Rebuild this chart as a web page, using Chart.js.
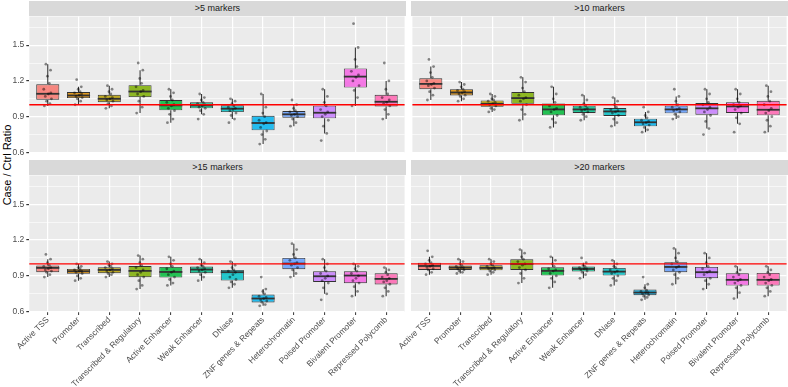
<!DOCTYPE html>
<html lang="en">
<head>
    <meta charset="UTF-8">
    <title>Case / Ctrl Ratio by chromatin state</title>
    <style>
        body {
            margin: 0;
            background: #ffffff;
            font-family: 'Liberation Sans', Arial, sans-serif;
        }
        #wrap {
            position: relative;
            width: 788px;
            height: 387px;
            overflow: hidden;
        }
        canvas {
            position: absolute;
        }
        .strip {
            position: absolute;
            height: 15px;
            line-height: 15px;
            background: #d9d9d9;
            color: #1a1a1a;
            font-size: 9px;
            text-align: center;
            z-index: 2;
        }
        #ytitle {
            position: absolute;
            left: -53px;
            top: 158px;
            width: 120px;
            height: 14px;
            line-height: 14px;
            font-size: 11px;
            color: #000;
            text-align: center;
            transform: rotate(-90deg);
        }
    </style>
    <script src="https://cdn.jsdelivr.net/npm/chart.js"></script>
</head>
<body>
<div id="wrap">
    <div id="ytitle">Case / Ctrl Ratio</div>
    <div class="strip" id="s1" style="left:29px;top:1px;width:377px;"></div>
    <div class="strip" id="s2" style="left:411px;top:1px;width:377px;"></div>
    <div class="strip" id="s3" style="left:29px;top:160px;width:377px;"></div>
    <div class="strip" id="s4" style="left:411px;top:160px;width:377px;"></div>
    <canvas id="c1" width="397" height="162" style="left:9px;top:0px;"></canvas>
    <canvas id="c2" width="377" height="162" style="left:411px;top:0px;"></canvas>
    <canvas id="c3" width="397" height="228" style="left:9px;top:159px;"></canvas>
    <canvas id="c4" width="400" height="228" style="left:388px;top:159px;"></canvas>
</div>

<script>
    // chromatin states (x axis) and facet titles
    const categories = ['Active TSS', 'Promoter', 'Transcribed', 'Transcribed & Regulatory', 'Active Enhancer',
        'Weak Enhancer', 'DNase', 'ZNF genes & Repeats', 'Heterochromatin', 'Poised Promoter',
        'Bivalent Promoter', 'Repressed Polycomb'];
    const panelTitles = ['>5 markers', '>10 markers', '>15 markers', '>20 markers'];
    const yTickValues = [0.6, 0.9, 1.2, 1.5];
    const yTickLabels = ['0.6', '0.9', '1.2', '1.5'];
    const yMinorValues = [0.75, 1.05, 1.35, 1.65];
    const refRatio = 1.0;

    // >5 markers
    const q1Gt5  = [1.042, 1.056, 1.022, 1.064, 0.953, 0.970, 0.939, 0.786, 0.892, 0.886, 1.144, 0.986];
    const medGt5 = [1.092, 1.078, 1.050, 1.111, 0.995, 0.995, 0.967, 0.847, 0.920, 0.933, 1.236, 1.025];
    const q3Gt5  = [1.172, 1.106, 1.083, 1.164, 1.039, 1.020, 0.995, 0.908, 0.947, 0.992, 1.305, 1.083];
    const ptsGt5 = [
        [0.99, 1.01, 1.03, 1.05, 1.07, 1.09, 1.10, 1.13, 1.18, 1.24, 1.29, 1.34],
        [1.00, 1.03, 1.05, 1.06, 1.07, 1.08, 1.09, 1.10, 1.11, 1.13, 1.15, 1.21],
        [0.97, 0.99, 1.01, 1.03, 1.04, 1.05, 1.06, 1.07, 1.09, 1.11, 1.13, 1.16],
        [0.93, 0.98, 1.03, 1.07, 1.09, 1.11, 1.12, 1.15, 1.18, 1.22, 1.29, 1.35],
        [0.85, 0.88, 0.92, 0.95, 0.97, 0.99, 1.00, 1.02, 1.04, 1.07, 1.10, 1.13],
        [0.88, 0.92, 0.95, 0.97, 0.98, 0.99, 1.00, 1.01, 1.02, 1.04, 1.06, 1.09],
        [0.85, 0.88, 0.91, 0.93, 0.95, 0.96, 0.97, 0.98, 0.99, 1.01, 1.03, 1.05],
        [0.67, 0.71, 0.75, 0.78, 0.81, 0.84, 0.85, 0.87, 0.90, 0.93, 0.98, 1.09],
        [0.82, 0.85, 0.88, 0.90, 0.91, 0.92, 0.93, 0.94, 0.95, 0.97, 1.00, 1.04],
        [0.70, 0.76, 0.82, 0.87, 0.90, 0.92, 0.94, 0.96, 0.99, 1.02, 1.07, 1.13],
        [0.99, 1.06, 1.12, 1.16, 1.20, 1.23, 1.25, 1.28, 1.32, 1.38, 1.48, 1.68],
        [0.88, 0.92, 0.96, 0.99, 1.01, 1.02, 1.04, 1.06, 1.09, 1.13, 1.20, 1.35]
    ];

    // >10 markers
    const q1Gt10  = [1.131, 1.078, 0.983, 1.008, 0.911, 0.931, 0.906, 0.819, 0.928, 0.917, 0.931, 0.911];
    const medGt10 = [1.175, 1.103, 1.008, 1.056, 0.961, 0.961, 0.944, 0.853, 0.961, 0.970, 0.986, 0.958];
    const q3Gt10  = [1.222, 1.131, 1.036, 1.106, 1.011, 0.992, 0.972, 0.883, 0.992, 1.014, 1.022, 1.033];
    const ptsGt10 = [
        [1.04, 1.08, 1.11, 1.14, 1.16, 1.17, 1.18, 1.20, 1.23, 1.27, 1.32, 1.38],
        [1.03, 1.05, 1.07, 1.08, 1.09, 1.10, 1.11, 1.12, 1.13, 1.15, 1.17, 1.19],
        [0.94, 0.96, 0.97, 0.99, 1.00, 1.01, 1.02, 1.03, 1.04, 1.05, 1.07, 1.09],
        [0.87, 0.92, 0.96, 1.00, 1.03, 1.05, 1.06, 1.08, 1.11, 1.14, 1.19, 1.23],
        [0.81, 0.85, 0.88, 0.91, 0.94, 0.96, 0.97, 0.99, 1.02, 1.05, 1.09, 1.15],
        [0.87, 0.90, 0.92, 0.94, 0.95, 0.96, 0.97, 0.98, 0.99, 1.01, 1.04, 1.08],
        [0.82, 0.85, 0.88, 0.91, 0.93, 0.94, 0.95, 0.96, 0.98, 1.00, 1.03, 1.06],
        [0.77, 0.79, 0.81, 0.83, 0.84, 0.85, 0.86, 0.87, 0.89, 0.91, 0.94, 0.98],
        [0.88, 0.90, 0.92, 0.94, 0.95, 0.96, 0.97, 0.98, 1.00, 1.03, 1.07, 1.13],
        [0.75, 0.80, 0.86, 0.91, 0.94, 0.96, 0.98, 1.00, 1.02, 1.05, 1.09, 1.13],
        [0.77, 0.84, 0.89, 0.93, 0.96, 0.98, 0.99, 1.00, 1.02, 1.05, 1.09, 1.13],
        [0.77, 0.82, 0.87, 0.90, 0.93, 0.95, 0.97, 1.00, 1.03, 1.07, 1.11, 1.16]
    ];

    // >15 markers
    const q1Gt15  = [0.931, 0.917, 0.922, 0.889, 0.886, 0.922, 0.861, 0.678, 0.956, 0.850, 0.839, 0.828];
    const medGt15 = [0.967, 0.939, 0.950, 0.942, 0.933, 0.953, 0.931, 0.711, 1.003, 0.897, 0.903, 0.875];
    const q3Gt15  = [0.986, 0.958, 0.972, 0.983, 0.975, 0.978, 0.950, 0.744, 1.050, 0.939, 0.939, 0.922];
    const ptsGt15 = [
        [0.89, 0.91, 0.93, 0.94, 0.95, 0.96, 0.97, 0.98, 0.99, 1.01, 1.04, 1.08],
        [0.86, 0.88, 0.90, 0.92, 0.93, 0.94, 0.94, 0.95, 0.96, 0.97, 0.98, 1.00],
        [0.89, 0.91, 0.92, 0.93, 0.94, 0.95, 0.96, 0.97, 0.98, 0.99, 1.00, 1.02],
        [0.79, 0.82, 0.86, 0.89, 0.91, 0.93, 0.95, 0.97, 0.99, 1.01, 1.04, 1.07],
        [0.82, 0.84, 0.87, 0.89, 0.91, 0.93, 0.94, 0.96, 0.98, 1.00, 1.03, 1.06],
        [0.86, 0.89, 0.91, 0.93, 0.94, 0.95, 0.96, 0.97, 0.98, 0.99, 1.01, 1.04],
        [0.80, 0.83, 0.85, 0.87, 0.89, 0.91, 0.93, 0.94, 0.95, 0.97, 0.99, 1.02],
        [0.65, 0.66, 0.68, 0.69, 0.70, 0.71, 0.72, 0.73, 0.75, 0.77, 0.79, 0.89],
        [0.89, 0.92, 0.95, 0.97, 0.99, 1.00, 1.01, 1.03, 1.05, 1.08, 1.12, 1.17],
        [0.70, 0.75, 0.80, 0.84, 0.86, 0.88, 0.90, 0.92, 0.94, 0.97, 1.00, 1.04],
        [0.73, 0.77, 0.81, 0.84, 0.86, 0.88, 0.90, 0.92, 0.94, 0.96, 0.98, 1.00],
        [0.73, 0.77, 0.80, 0.83, 0.85, 0.86, 0.88, 0.89, 0.91, 0.93, 0.95, 0.97]
    ];

    // >20 markers
    const q1Gt20  = [0.950, 0.950, 0.947, 0.950, 0.903, 0.936, 0.903, 0.739, 0.931, 0.881, 0.819, 0.819];
    const medGt20 = [0.983, 0.969, 0.967, 1.000, 0.942, 0.958, 0.936, 0.761, 0.975, 0.931, 0.867, 0.867];
    const q3Gt20  = [1.011, 0.986, 0.989, 1.039, 0.972, 0.978, 0.967, 0.786, 1.014, 0.975, 0.922, 0.925];
    const ptsGt20 = [
        [0.91, 0.93, 0.95, 0.96, 0.97, 0.98, 0.99, 1.00, 1.01, 1.03, 1.06, 1.11],
        [0.92, 0.93, 0.94, 0.95, 0.96, 0.97, 0.97, 0.98, 0.99, 1.00, 1.02, 1.04],
        [0.91, 0.93, 0.94, 0.95, 0.96, 0.96, 0.97, 0.98, 0.99, 1.00, 1.02, 1.04],
        [0.84, 0.88, 0.92, 0.95, 0.97, 0.99, 1.00, 1.02, 1.04, 1.06, 1.09, 1.12],
        [0.80, 0.85, 0.88, 0.90, 0.92, 0.94, 0.95, 0.96, 0.98, 1.00, 1.03, 1.06],
        [0.88, 0.91, 0.93, 0.94, 0.95, 0.96, 0.96, 0.97, 0.98, 0.99, 1.01, 1.05],
        [0.82, 0.86, 0.88, 0.90, 0.92, 0.93, 0.94, 0.95, 0.97, 0.98, 1.00, 1.03],
        [0.70, 0.72, 0.73, 0.74, 0.75, 0.76, 0.76, 0.77, 0.78, 0.80, 0.83, 0.89],
        [0.83, 0.88, 0.91, 0.93, 0.95, 0.97, 0.98, 1.00, 1.02, 1.05, 1.09, 1.13],
        [0.79, 0.83, 0.86, 0.88, 0.91, 0.93, 0.94, 0.96, 0.98, 1.01, 1.05, 1.09],
        [0.71, 0.76, 0.80, 0.82, 0.84, 0.86, 0.87, 0.89, 0.91, 0.93, 0.95, 0.98],
        [0.73, 0.77, 0.80, 0.82, 0.84, 0.86, 0.87, 0.89, 0.91, 0.93, 0.95, 0.98]
    ];

    // ggplot default hue palette, one per state
    const boxColors = ['#F8766D', '#DE8C00', '#B79F00', '#7CAE00', '#00BA38', '#00C08B',
        '#00BFC4', '#00B4F0', '#619CFF', '#C77CFF', '#F564E3', '#FF64B0'];
    // horizontal jitter for the points (in category units)
    const JITTER = [-0.11, 0.07, -0.04, 0.12, -0.08, 0.02, 0.10, -0.13, 0.05, -0.01, 0.09, -0.06];

    Chart.defaults.font.family = "'Liberation Sans', Arial, sans-serif";

    function withAlpha(hex, a) {
        const n = parseInt(hex.slice(1), 16);
        return 'rgba(' + (n >> 16) + ',' + ((n >> 8) & 255) + ',' + (n & 255) + ',' + a + ')';
    }

    function isMajor(v) {
        return yTickValues.some(m => Math.abs(m - v) < 1e-6);
    }

    // grey panel background
    const panelBg = {
        id: 'panelBg',
        beforeDraw(chart) {
            const a = chart.chartArea;
            chart.ctx.save();
            chart.ctx.fillStyle = '#ebebeb';
            chart.ctx.fillRect(a.left, a.top, a.right - a.left, a.bottom - a.top);
            chart.ctx.restore();
        }
    };

    // median bars on top of the boxes + red reference line
    const boxExtras = {
        id: 'boxExtras',
        afterDatasetDraw(chart, args) {
            const ds = chart.data.datasets[args.index];
            if (!ds.medians) return;
            const ctx = chart.ctx;
            const y = chart.scales.y;
            ctx.save();
            ctx.strokeStyle = '#333333';
            ctx.lineWidth = 1.8;
            args.meta.data.forEach((el, i) => {
                const p = el.getProps(['x', 'width'], true);
                const py = y.getPixelForValue(ds.medians[i]);
                ctx.beginPath();
                ctx.moveTo(p.x - p.width / 2, py);
                ctx.lineTo(p.x + p.width / 2, py);
                ctx.stroke();
            });
            ctx.restore();
        },
        afterDatasetsDraw(chart) {
            const a = chart.chartArea;
            const py = chart.scales.y.getPixelForValue(refRatio);
            const ctx = chart.ctx;
            ctx.save();
            ctx.strokeStyle = '#ff0000';
            ctx.lineWidth = 1.3;
            ctx.beginPath();
            ctx.moveTo(a.left, py);
            ctx.lineTo(a.right, py);
            ctx.stroke();
            ctx.restore();
        }
    };

    function makePanel(id, q1, med, q3, pts, o) {
        // whiskers reach the furthest point within 1.5 IQR
        const lowW = [], highW = [];
        categories.forEach((_, i) => {
            const iqr = q3[i] - q1[i];
            const lo = Math.min(...pts[i].filter(v => v >= q1[i] - 1.5 * iqr));
            const hi = Math.max(...pts[i].filter(v => v <= q3[i] + 1.5 * iqr));
            lowW.push({x: i, y: [lo, q1[i]]});
            highW.push({x: i, y: [q3[i], hi]});
        });
        const points = [];
        pts.forEach((vals, i) => vals.forEach((v, j) => points.push({x: i + JITTER[j % JITTER.length], y: v})));

        const whiskerStyle = {
            type: 'bar', backgroundColor: '#333333', borderWidth: 0,
            barPercentage: 0.035, categoryPercentage: 1, grouped: false, order: 3
        };

        return new Chart(document.getElementById(id), {
            type: 'bar',
            data: {
                datasets: [
                    Object.assign({data: lowW}, whiskerStyle),
                    Object.assign({data: highW}, whiskerStyle),
                    {
                        type: 'bar',
                        data: categories.map((_, i) => ({x: i, y: [q1[i], q3[i]]})),
                        medians: med,
                        backgroundColor: boxColors.map(c => withAlpha(c, 0.85)),
                        borderColor: '#333333',
                        borderWidth: 0.9,
                        borderSkipped: false,
                        barPercentage: 0.75,
                        categoryPercentage: 1,
                        grouped: false,
                        order: 2
                    },
                    {
                        type: 'scatter',
                        data: points,
                        pointRadius: 1.4,
                        pointHoverRadius: 0,
                        pointBackgroundColor: 'rgba(0,0,0,0.45)',
                        pointBorderWidth: 0,
                        order: 1
                    }
                ]
            },
            options: {
                responsive: false,
                animation: false,
                events: [],
                layout: {padding: {top: 16.5}},
                plugins: {legend: {display: false}, tooltip: {enabled: false}},
                scales: {
                    x: {
                        type: 'linear',
                        min: -0.6,
                        max: 11.6,
                        offset: false,
                        afterBuildTicks: a => { a.ticks = categories.map((_, i) => ({value: i})); },
                        afterFit: a => { a.height = o.xHeight; },
                        border: {display: false},
                        grid: {
                            color: '#ffffff', lineWidth: 1.2, offset: false,
                            drawTicks: o.showX, tickLength: 3, tickColor: '#333333', tickWidth: 1
                        },
                        ticks: {
                            display: o.showX, autoSkip: false, maxRotation: 45, minRotation: 45,
                            padding: 0, color: '#4d4d4d', font: {size: 8.4},
                            callback: v => categories[v]
                        }
                    },
                    y: {
                        min: 0.598,
                        max: 1.74,
                        afterBuildTicks: a => {
                            a.ticks = yTickValues.concat(yMinorValues).sort((p, q) => p - q).map(v => ({value: v}));
                        },
                        afterFit: a => { a.width = o.yWidth; },
                        border: {display: false},
                        grid: {
                            color: '#ffffff',
                            lineWidth: c => (c.tick && isMajor(c.tick.value)) ? 1.2 : 0.6,
                            drawTicks: o.showY,
                            tickLength: 3,
                            tickColor: c => (c.tick && isMajor(c.tick.value)) ? '#333333' : 'rgba(0,0,0,0)'
                        },
                        ticks: {
                            display: o.showY, padding: 2, color: '#4d4d4d', font: {size: 8.5},
                            callback: v => {
                                const k = yTickValues.findIndex(m => Math.abs(m - v) < 1e-6);
                                return k < 0 ? '' : yTickLabels[k];
                            }
                        }
                    }
                }
            },
            plugins: [panelBg, boxExtras]
        });
    }

    ['s1', 's2', 's3', 's4'].forEach((id, i) => { document.getElementById(id).textContent = panelTitles[i]; });

    makePanel('c1', q1Gt5, medGt5, q3Gt5, ptsGt5, {showX: false, showY: true, yWidth: 20.3, xHeight: 9.3});
    makePanel('c2', q1Gt10, medGt10, q3Gt10, ptsGt10, {showX: false, showY: false, yWidth: 0, xHeight: 9.3});
    makePanel('c3', q1Gt15, medGt15, q3Gt15, ptsGt15, {showX: true, showY: true, yWidth: 20.3, xHeight: 75});
    makePanel('c4', q1Gt20, medGt20, q3Gt20, ptsGt20, {showX: true, showY: false, yWidth: 23, xHeight: 75});
</script>
</body>
</html>
